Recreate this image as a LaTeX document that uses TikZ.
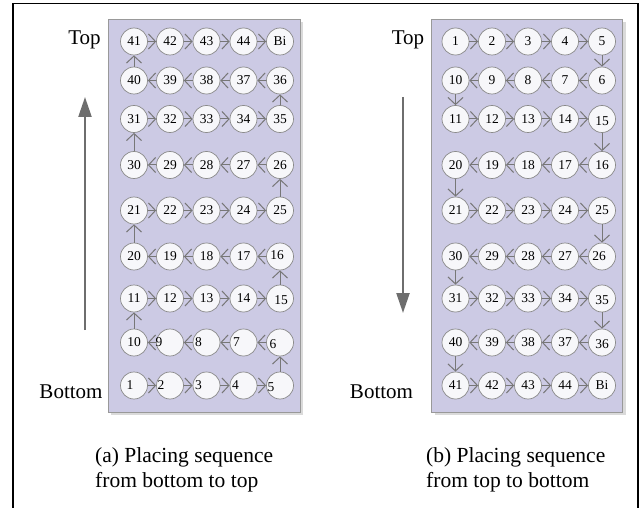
\documentclass[tikz,border=0pt]{standalone}
\usepackage{fontspec}
\setmainfont{Liberation Serif}
\usetikzlibrary{arrows.meta}
\definecolor{panel}{HTML}{CCCAE4}
\definecolor{circfill}{HTML}{F7F7FA}
\definecolor{circline}{HTML}{8A8A8A}
\definecolor{connc}{HTML}{777777}
\definecolor{bigarrow}{HTML}{6E6E6E}
\definecolor{shadowc}{HTML}{DADADA}
\tikzset{
 circ/.style={circle, draw=circline, fill=circfill, line width=0.7pt, minimum size=27pt, inner sep=0pt},
 num/.style={font=\fontsize{13.5}{13.5}\selectfont, inner sep=0pt},
 link/.style={draw=connc, line width=1pt, -{Straight Barb[length=7pt,width=15pt]}},
 panelbox/.style={fill=panel, draw=gray!80, line width=0.6pt},
 side/.style={font=\fontsize{21}{21}\selectfont, inner sep=0pt},
 captxt/.style={font=\fontsize{21.5}{21.5}\selectfont, inner sep=0pt, anchor=base west},
 big/.style={draw=bigarrow, line width=2.3pt, -{Triangle[length=20pt,width=13pt]}},
}
\makeatletter
\newcommand\setoff[3]{\@namedef{dx@#1}{#2}\@namedef{dy@#1}{#3}}
\makeatother
\setoff{L1}{-4}{0}
\setoff{L2}{-9}{0}
\setoff{L3}{-8}{0}
\setoff{L4}{-8}{0}
\setoff{L5}{-9}{2}
\setoff{L6}{-7}{2}
\setoff{L7}{-7}{0}
\setoff{L8}{-8}{0}
\setoff{L9}{-11}{0}
\setoff{L15}{1}{2}
\setoff{L16}{-3}{-1}
\setoff{R15}{0}{2}
\setoff{R26}{-3}{0}
\setoff{R35}{0}{2}
\setoff{R36}{0}{2}
\begin{document}
\begin{tikzpicture}[x=1pt,y=-1pt]
\useasboundingbox (0,0) rectangle (640,508);
\draw[line width=1.5pt] (13,512) -- (13,3.5) -- (638,3.5) -- (638,512);
% panels
\fill[shadowc] (111,22) rectangle (303,415);
\draw[panelbox] (108,19) rectangle (300,412);
\fill[shadowc] (434.7,22) rectangle (625.7,415);
\draw[panelbox] (431.7,19) rectangle (622.7,412);
% nodes
\foreach \n in {1,...,45}{
 \pgfmathtruncatemacro\row{int((\n-1)/5)}
 \pgfmathtruncatemacro\kk{mod(\n-1,5)}
 \pgfmathtruncatemacro\col{mod(\row,2)==0 ? \kk : 4-\kk}
 \pgfmathsetmacro\xL{{134,170,206.5,243.5,280}[\col]}
 \pgfmathsetmacro\xR{{455.5,492,528,565,602}[\col]}
 \pgfmathsetmacro\yL{{41.5,80.5,119,165,210.5,256.5,298.5,342.5,385.5}[8-\row]}
 \pgfmathsetmacro\yR{{41.5,80.5,119,165,210.5,256.5,298.5,342.5,385.5}[\row]}
 \ifcsname dx@L\n\endcsname
   \edef\dxL{\csname dx@L\n\endcsname}\edef\dyL{\csname dy@L\n\endcsname}
 \else \def\dxL{0}\def\dyL{0}\fi
 \ifcsname dx@R\n\endcsname
   \edef\dxR{\csname dx@R\n\endcsname}\edef\dyR{\csname dy@R\n\endcsname}
 \else \def\dxR{0}\def\dyR{0}\fi
 \node[circ] (L\n) at (\xL,\yL) {};
 \node[num] (tL\n) at (\xL+\dxL,\yL+\dyL) {\ifnum\n=45 Bi\else\n\fi};
 \node[circ] (R\n) at (\xR,\yR) {};
 \node[num] (tR\n) at (\xR+\dxR,\yR+\dyR) {\ifnum\n=45 Bi\else\n\fi};
}
\foreach \n [evaluate=\n as \m using {int(\n+1)}] in {1,...,44}{
 \draw[link] (L\n) -- (L\m);
 \draw[link] (R\n) -- (R\m);
}
% side labels
\node[side, anchor=base] (topL) at (84.5,45) {Top};
\node[side, anchor=base] (botL) at (71,398) {Bottom};
\node[side, anchor=base] (topR) at (408,45) {Top};
\node[side, anchor=base] (botR) at (381.5,398) {Bottom};
\coordinate (aL0) at (85,330);
\coordinate (aL1) at (85,97);
\draw[big] (aL0) -- (aL1);
\coordinate (aR0) at (403,97);
\coordinate (aR1) at (403,313);
\draw[big] (aR0) -- (aR1);
% captions
\node[captxt] (capA1) at (95,462) {(a) Placing sequence};
\node[captxt] (capA2) at (95,487) {from bottom to top};
\node[captxt] (capB1) at (426,462) {(b) Placing sequence};
\node[captxt] (capB2) at (426,487) {from top to bottom};
\end{tikzpicture}
\end{document}
